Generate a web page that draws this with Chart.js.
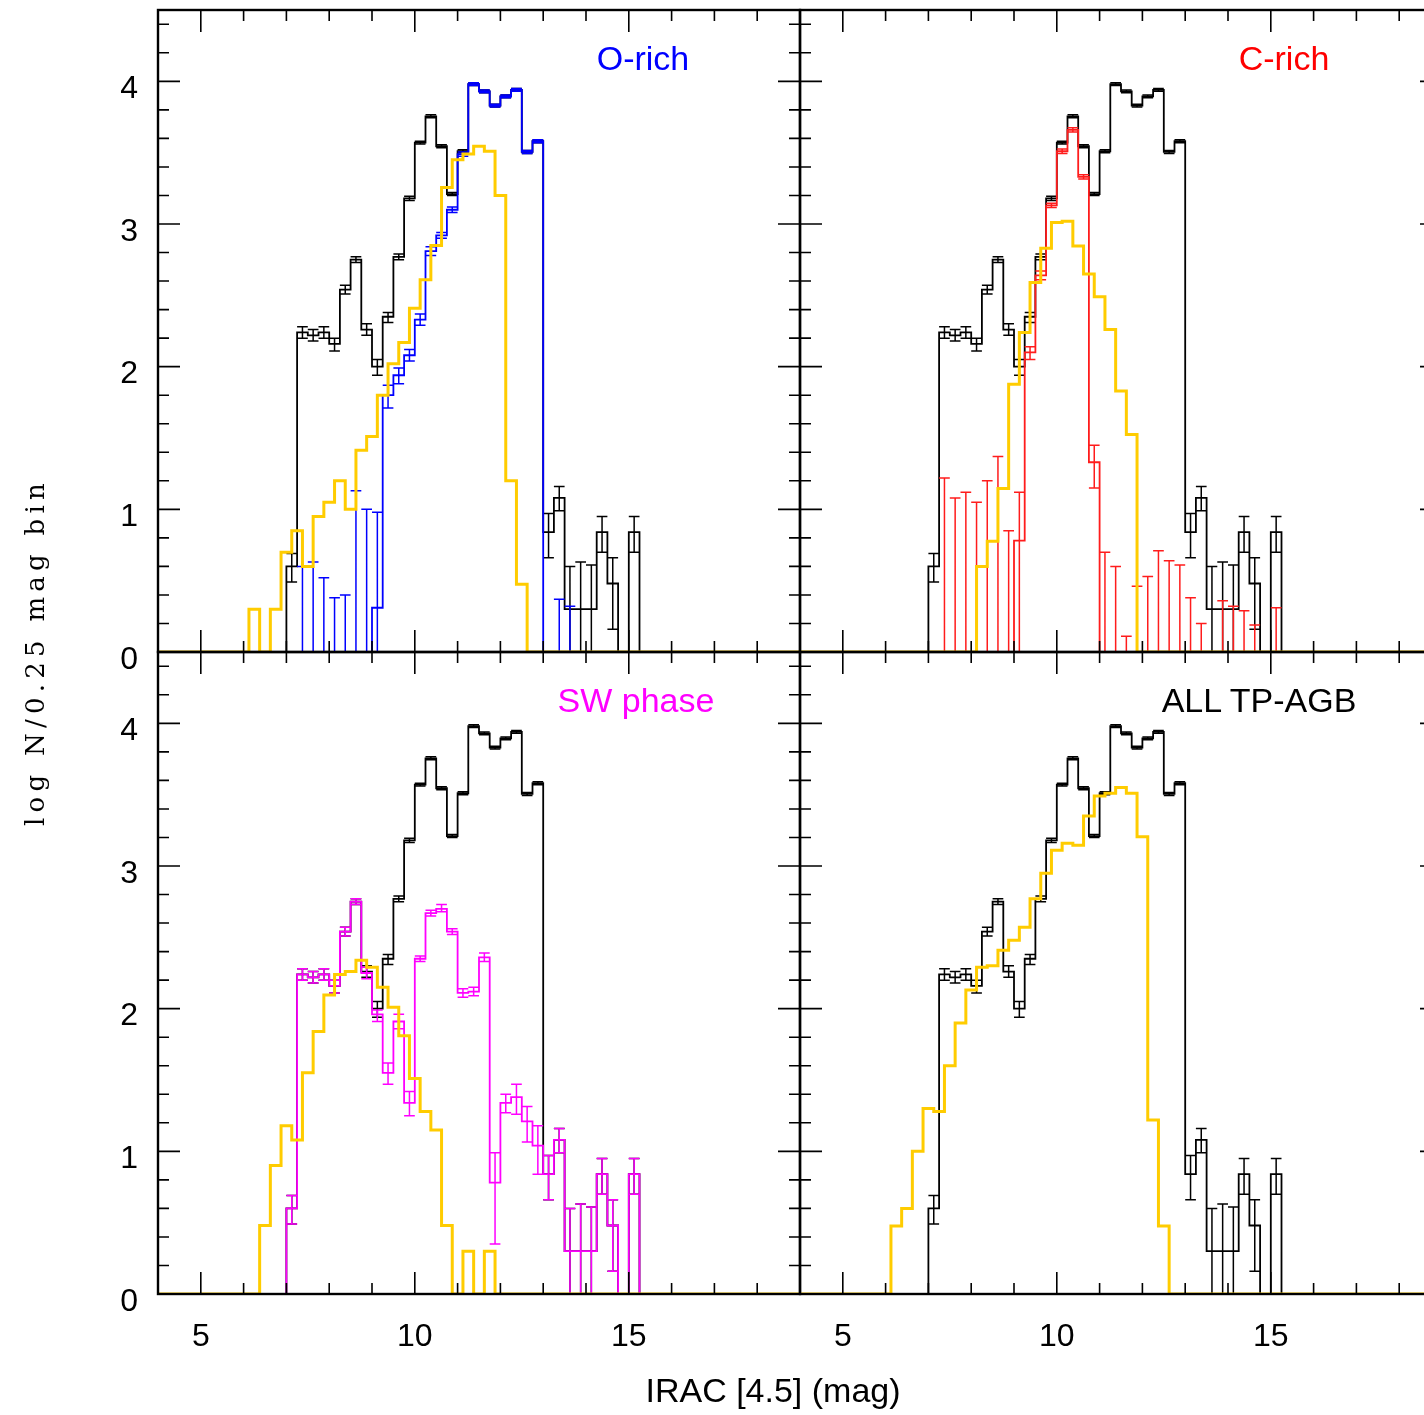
<!DOCTYPE html>
<html lang="en">
<head>
<meta charset="UTF-8">
<title>IRAC [4.5] luminosity functions</title>
<script src="https://cdn.jsdelivr.net/npm/chart.js"></script>
<style>
    body {
        margin: 0;
        background: #fff;
    }

    .page {
        position: relative;
        width: 1424px;
        height: 1415px;
        overflow: hidden;
        background: #fff;
        font-family: 'Liberation Sans', Arial, sans-serif;
    }

    .page canvas {
        position: absolute;
    }

    .label {
        position: absolute;
        font-size: 34px;
        white-space: nowrap;
        transform: translate(-50%, -50%);
    }

    #ytitle {
        position: absolute;
        left: 35px;
        top: 652px;
        font-family: 'DejaVu Serif', serif;
        font-size: 26px;
        white-space: pre;
        transform: translate(-50%, -50%) rotate(-90deg);
    }
</style>
</head>
<body>
<div class="page">
    <canvas id="panelO"></canvas>
    <canvas id="panelC"></canvas>
    <canvas id="panelSW"></canvas>
    <canvas id="panelAll"></canvas>

    <div class="label" style="left:643px; top:58px; color:#0000ff">O-rich</div>
    <div class="label" style="left:1284px; top:58px; color:#ff0000">C-rich</div>
    <div class="label" style="left:636px; top:700px; color:#ff00ff">SW phase</div>
    <div class="label" style="left:1259px; top:700px; color:#000">ALL TP-AGB</div>
    <div class="label" style="left:773px; top:1390px; color:#000">IRAC [4.5] (mag)</div>
    <div id="ytitle">log N/0.25 mag bin</div>
</div>

<script>
    // axis labels
    const xTickValues = [5, 10, 15];
    const yTickValues = [0, 1, 2, 3, 4];

    // observed counts, 0.25 mag bins (lower edges)
    const obsBins = [7.0, 7.25, 7.5, 7.75, 8.0, 8.25, 8.5, 8.75, 9.0, 9.25, 9.5, 9.75,
        10.0, 10.25, 10.5, 10.75, 11.0, 11.25, 11.5, 11.75, 12.0, 12.25, 12.5, 12.75,
        13.0, 13.25, 13.5, 13.75, 14.0, 14.25, 14.5, 14.75, 15.0];
    const obsLogN = [0.60, 2.24, 2.22, 2.24, 2.16, 2.54, 2.75, 2.26, 2.00, 2.35, 2.77, 3.18,
        3.57, 3.755, 3.545, 3.21, 3.51, 3.98, 3.93, 3.83, 3.895, 3.94, 3.505, 3.58,
        0.84, 1.08, 0.30, 0.30, 0.30, 0.84, 0.48, 0, 0.84];
    const obsErrUp = [0.09, 0.04, 0.04, 0.04, 0.04, 0.03, 0.02, 0.04, 0.05, 0.03, 0.02, 0.015,
        0.01, 0.01, 0.01, 0.01, 0.01, 0.01, 0.01, 0.01, 0.01, 0.01, 0.01, 0.01,
        0.13, 0.08, 0.30, 0.33, 0.31, 0.11, 0.18, 0, 0.11];
    const obsErrDn = [0.11, 0.04, 0.04, 0.04, 0.05, 0.03, 0.02, 0.04, 0.06, 0.04, 0.02, 0.015,
        0.01, 0.01, 0.01, 0.01, 0.01, 0.01, 0.01, 0.01, 0.01, 0.01, 0.01, 0.01,
        0.18, 0.09, 0.30, 0.30, 0.30, 0.14, 0.32, 0, 0.14];

    // observed, split by class (same bins)
    const oRichLogN = [0, 0, 0, 0, 0, 0, 0, 0, 0.31, 1.80, 1.94, 2.08,
        2.33, 2.81, 2.92, 3.10, 3.49, 3.98, 3.93, 3.83, 3.895, 3.94, 3.505, 3.58,
        0, 0, 0, 0, 0, 0, 0, 0, 0];
    const oRichErrUp = [0, 0.60, 0.63, 0.52, 0.38, 0.40, 1.13, 1.00, 0.67, 0.07, 0.05, 0.04,
        0.04, 0.03, 0.02, 0.02, 0.015, 0.01, 0.01, 0.01, 0.01, 0.01, 0.01, 0.01,
        0, 0.37, 0.32, 0, 0, 0, 0, 0, 0];
    const oRichErrDn = [0, 0, 0, 0, 0, 0, 0, 0, 0.31, 0.09, 0.06, 0.04,
        0.04, 0.03, 0.02, 0.02, 0.015, 0.01, 0.01, 0.01, 0.01, 0.01, 0.01, 0.01,
        0, 0, 0, 0, 0, 0, 0, 0, 0];

    const cRichLogN = [0, 0, 0, 0, 0, 0, 0, 0, 0.78, 2.10, 2.64, 3.13,
        3.51, 3.66, 3.33, 1.33, 0, 0, 0, 0, 0, 0, 0, 0,
        0, 0, 0, 0, 0, 0, 0, 0, 0];
    const cRichErrUp = [0, 1.22, 1.08, 1.12, 1.05, 1.20, 1.37, 0.85, 0.34, 0.04, 0.03, 0.015,
        0.015, 0.015, 0.015, 0.12, 0.70, 0.60, 0.11, 0.46, 0.53, 0.71, 0.64, 0.61,
        0.38, 0.20, 0, 0.36, 0.32, 0.29, 0.19, 0, 0.31];
    const cRichErrDn = [0, 0, 0, 0, 0, 0, 0, 0, 0.78, 0.05, 0.03, 0.015,
        0.015, 0.015, 0.015, 0.18, 0, 0, 0, 0, 0, 0, 0, 0,
        0, 0, 0, 0, 0, 0, 0, 0, 0];

    const swLogN = [0.60, 2.24, 2.22, 2.24, 2.16, 2.54, 2.75, 2.25, 1.96, 1.55, 1.91, 1.34,
        2.35, 2.67, 2.70, 2.54, 2.11, 2.12, 2.36, 0.78, 1.34, 1.38, 1.21, 1.04,
        0.84, 1.08, 0.30, 0.30, 0.30, 0.84, 0.48, 0, 0.84];
    const swErrUp = [0.09, 0.04, 0.04, 0.04, 0.04, 0.03, 0.02, 0.04, 0.03, 0.07, 0.05, 0.08,
        0.02, 0.02, 0.03, 0.02, 0.03, 0.03, 0.03, 0.21, 0.06, 0.09, 0.105, 0.14,
        0.13, 0.08, 0.30, 0.33, 0.31, 0.11, 0.18, 0, 0.11];
    const swErrDn = [0.11, 0.04, 0.04, 0.04, 0.05, 0.03, 0.02, 0.04, 0.05, 0.08, 0.05, 0.09,
        0.02, 0.02, 0.02, 0.02, 0.03, 0.03, 0.03, 0.43, 0.07, 0.12, 0.145, 0.20,
        0.18, 0.09, 0.30, 0.30, 0.30, 0.14, 0.32, 0, 0.14];

    // model counts, bins shifted by half a bin
    const modelBins = [6.125, 6.375, 6.625, 6.875, 7.125, 7.375, 7.625, 7.875, 8.125, 8.375,
        8.625, 8.875, 9.125, 9.375, 9.625, 9.875, 10.125, 10.375, 10.625, 10.875,
        11.125, 11.375, 11.625, 11.875, 12.125, 12.375];
    const modelORich = [0.30, 0, 0.30, 0.70, 0.85, 0.60, 0.95, 1.05, 1.20, 1.00,
        1.415, 1.51, 1.80, 2.02, 2.17, 2.41, 2.61, 2.85, 3.255, 3.45,
        3.49, 3.545, 3.51, 3.20, 1.20, 0.475];
    const modelCRich = [0, 0, 0, 0, 0, 0, 0, 0, 0.60, 0.776,
        1.146, 1.877, 2.24, 2.59, 2.83, 3.01, 3.02, 2.846, 2.65, 2.49,
        2.26, 1.83, 1.525, 0, 0, 0];
    const modelSW = [0, 0.48, 0.90, 1.18, 1.08, 1.55, 1.84, 2.095, 2.24, 2.26,
        2.34, 2.29, 2.15, 2.01, 1.81, 1.51, 1.28, 1.15, 0.48, 0,
        0.30, 0, 0.30, 0, 0, 0];
    const modelAll = [0.477, 0.60, 1.00, 1.30, 1.28, 1.60, 1.90, 2.13, 2.29, 2.30,
        2.41, 2.48, 2.57, 2.77, 2.95, 3.11, 3.16, 3.145, 3.35, 3.49,
        3.51, 3.55, 3.51, 3.205, 1.22, 0.477];

    const BIN = 0.25;
    const PANEL = 642;
    const PAD = 50;
    const tickFont = { family: 'Liberation Sans', size: 32 };

    // outline of a step histogram, starting and ending on the axis
    const histPoints = (edges, logN, x0, x1) => {
        const pts = [];
        if (x0 !== undefined) pts.push({ x: x0, y: 0 });
        pts.push({ x: edges[0], y: 0 });
        edges.forEach((e, i) => {
            pts.push({ x: e, y: logN[i] }, { x: e + BIN, y: logN[i] });
        });
        pts.push({ x: edges[edges.length - 1] + BIN, y: 0 });
        if (x1 !== undefined) pts.push({ x: x1, y: 0 });
        return pts;
    };

    // error bars as broken line pieces: stem, top cap, bottom cap
    const errorPoints = (edges, logN, up, dn) => {
        const pts = [];
        edges.forEach((e, i) => {
            if (!up[i] && !dn[i]) return;
            const c = e + BIN / 2;
            const hi = logN[i] + up[i];
            const lo = Math.max(logN[i] - dn[i], 0);
            pts.push({ x: c, y: lo }, { x: c, y: hi }, { x: c, y: null });
            pts.push({ x: e, y: hi }, { x: e + BIN, y: hi }, { x: e, y: null });
            if (lo > 0) pts.push({ x: e, y: lo }, { x: e + BIN, y: lo }, { x: e, y: null });
        });
        return pts;
    };

    const lineSet = (data, color, width, order) => ({
        data: data,
        borderColor: color,
        borderWidth: width,
        pointRadius: 0,
        fill: false,
        tension: 0,
        spanGaps: false,
        order: order
    });

    // frame with inward ticks on all four sides
    const framePlugin = {
        id: 'frame',
        afterDatasetsDraw(chart) {
            const { ctx, chartArea: a, scales } = chart;
            const x = scales.x, y = scales.y;
            ctx.save();
            ctx.strokeStyle = '#000';
            ctx.lineWidth = 1.6;
            ctx.beginPath();
            for (let v = 5; v <= 18; v++) {
                const px = x.getPixelForValue(v);
                const len = v % 5 === 0 ? 22 : 11;
                ctx.moveTo(px, a.bottom); ctx.lineTo(px, a.bottom - len);
                ctx.moveTo(px, a.top); ctx.lineTo(px, a.top + len);
            }
            for (let k = 1; k <= 22; k++) {
                const py = y.getPixelForValue(k / 5);
                const len = k % 5 === 0 ? 22 : 11;
                ctx.moveTo(a.left, py); ctx.lineTo(a.left + len, py);
                ctx.moveTo(a.right, py); ctx.lineTo(a.right - len, py);
            }
            ctx.stroke();
            ctx.lineWidth = 2.4;
            ctx.strokeRect(a.left, a.top, a.right - a.left, a.bottom - a.top);
            ctx.restore();
        }
    };

    const makePanel = (id, left, top, showX, showY, datasets) => {
        const yW = showY ? left - PAD : 0;
        const xH = showX ? 100 : 0;
        const cv = document.getElementById(id);
        cv.width = PAD + yW + PANEL + PAD;
        cv.height = PAD + PANEL + xH + PAD;
        cv.style.left = (left - PAD - yW) + 'px';
        cv.style.top = (top - PAD) + 'px';

        return new Chart(cv, {
            type: 'line',
            data: { datasets: datasets },
            options: {
                responsive: false,
                animation: false,
                events: [],
                layout: { padding: PAD },
                plugins: { legend: { display: false }, tooltip: { enabled: false } },
                scales: {
                    x: {
                        type: 'linear', min: 4, max: 19, display: showX,
                        grid: { display: false, drawTicks: false },
                        border: { display: false },
                        ticks: { font: tickFont, color: '#000', padding: 24, maxRotation: 0 },
                        afterBuildTicks: s => { s.ticks = xTickValues.map(v => ({ value: v })); },
                        afterFit: s => { s.height = xH; }
                    },
                    y: {
                        type: 'linear', min: 0, max: 4.5, display: showY,
                        grid: { display: false, drawTicks: false },
                        border: { display: false },
                        ticks: { font: tickFont, color: '#000', padding: 20, labelOffset: 8 },
                        afterBuildTicks: s => { s.ticks = yTickValues.map(v => ({ value: v })); },
                        afterFit: s => { s.width = yW; }
                    }
                }
            },
            plugins: [framePlugin]
        });
    };

    const YELLOW = 'rgb(255, 204, 0)';
    const obsSets = () => [
        lineSet(histPoints(obsBins, obsLogN), '#000', 1.8, 4),
        lineSet(errorPoints(obsBins, obsLogN, obsErrUp, obsErrDn), '#000', 1.5, 3)
    ];

    makePanel('panelO', 158, 10, false, true, [
        lineSet(histPoints(modelBins, modelORich, 4, 19), YELLOW, 3, 0),
        lineSet(histPoints(obsBins, oRichLogN), '#0000ff', 1.8, 1),
        lineSet(errorPoints(obsBins, oRichLogN, oRichErrUp, oRichErrDn), '#0000ff', 1.5, 2),
        ...obsSets()
    ]);

    makePanel('panelC', 800, 10, false, false, [
        lineSet(histPoints(modelBins, modelCRich, 4, 19), YELLOW, 3, 0),
        lineSet(histPoints(obsBins, cRichLogN), '#ff1c1c', 1.8, 1),
        lineSet(errorPoints(obsBins, cRichLogN, cRichErrUp, cRichErrDn), '#ff1c1c', 1.5, 2),
        ...obsSets()
    ]);

    makePanel('panelSW', 158, 652, true, true, [
        lineSet(histPoints(modelBins, modelSW, 4, 19), YELLOW, 3, 0),
        lineSet(histPoints(obsBins, swLogN), '#ff00ff', 1.8, 1),
        lineSet(errorPoints(obsBins, swLogN, swErrUp, swErrDn), '#ff00ff', 1.5, 2),
        ...obsSets()
    ]);

    makePanel('panelAll', 800, 652, true, false, [
        lineSet(histPoints(modelBins, modelAll, 4, 19), YELLOW, 3, 0),
        ...obsSets()
    ]);

    // stretch the vertical title to its full length
    const yTitle = document.getElementById('ytitle');
    const mctx = document.createElement('canvas').getContext('2d');
    mctx.font = '26px "DejaVu Serif"';
    const natural = mctx.measureText(yTitle.textContent).width;
    yTitle.style.letterSpacing = ((348 - natural) / yTitle.textContent.length) + 'px';
</script>
</body>
</html>
